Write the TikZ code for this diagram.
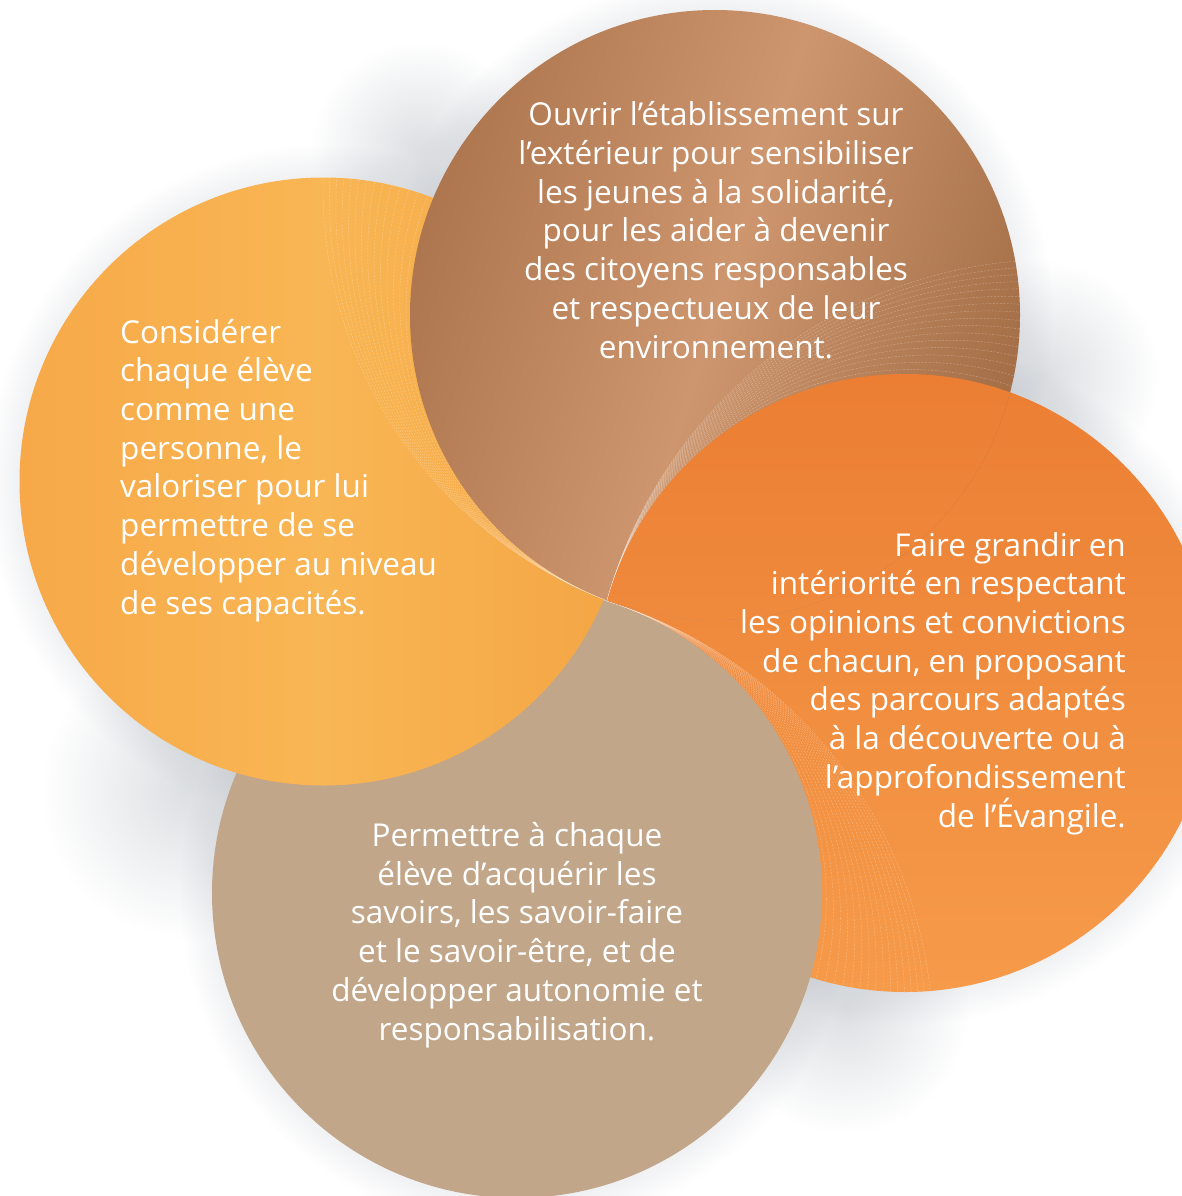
\documentclass[tikz,border=0pt]{standalone}
\usepackage{fontspec}
\setmainfont{Open Sans}
\usetikzlibrary{calc}
\definecolor{yelL}{HTML}{F7A949}
\definecolor{yelM}{HTML}{F9B654}
\definecolor{yelR}{HTML}{F4A544}
\definecolor{brnL}{HTML}{AE764E}
\definecolor{brnM}{HTML}{CD966E}
\definecolor{brnR}{HTML}{A46E47}
\definecolor{orgT}{HTML}{EB7E33}
\definecolor{orgB}{HTML}{F69B4A}
\definecolor{tanC}{HTML}{C2A689}
\definecolor{shgray}{HTML}{DCDFE2}
\definecolor{halogray}{HTML}{F0F1F3}
\pgfdeclareradialshading{halo}{\pgfpoint{0bp}{0bp}}{color(0bp)=(halogray); color(22.5bp)=(halogray); color(25bp)=(white); color(50bp)=(white)}
\begin{document}
\begin{tikzpicture}[x=1pt,y=-1pt,
  ring/.style={white, opacity=0.3, line width=0.45pt, dash pattern=on 2pt off 1.5pt},
  txt/.style={text=white, inner sep=0pt, font=\fontsize{31.5}{38.7}\selectfont},
  yelfill/.style={left color=yelL, right color=yelR, middle color=yelM},
  brnfill/.style={left color=brnL, right color=brnR, middle color=brnM, shading angle=72},
  orgfill/.style={top color=orgT, bottom color=orgB},
  blob/.style={inner color=shgray, outer color=white}
]
\useasboundingbox (0,0) rectangle (1181,1196);
\coordinate (P) at (605,600);
\coordinate (Yc) at (323.5,481.5);
\coordinate (Bc) at (715,315);
\coordinate (Oc) at (905,683);
\coordinate (Tc) at (517,893);

% soft shadows
\begin{scope}[blend mode=multiply]
  \shade[shading=halo] (Yc) circle[radius=338];
  \shade[shading=halo] (Bc) circle[radius=339];
  \shade[shading=halo] (Oc) circle[radius=343];
  \shade[shading=halo] (Tc) circle[radius=339];
  \shade[blob] (420,150) circle[radius=110];
  \shade[blob] (1045,375) circle[radius=115];
  \shade[blob] (845,1010) circle[radius=125];
  \shade[blob] (190,790) circle[radius=150];
\end{scope}

% orange (bottom layer)
\shade[orgfill] (Oc) circle[radius=309];
\begin{scope}
  \clip (Oc) circle[radius=309];
  \foreach \t in {6,16,...,156}
    \draw[ring] ($(Tc)!{-\t/305.9}!(P)$) circle[radius=305+\t];
\end{scope}

% tan
\fill[tanC] (Tc) circle[radius=305];

% yellow
\shade[yelfill] (Yc) circle[radius=304];
\begin{scope}
  \clip (Yc) circle[radius=304];
  \foreach \t in {6,16,...,136}
    \draw[ring] ($(Bc)!{-\t/305.5}!(P)$) circle[radius=305+\t];
\end{scope}

% brown
\shade[brnfill] (Bc) circle[radius=305];
\begin{scope}
  \clip (Bc) circle[radius=305];
  \foreach \t in {6,16,...,156}
    \draw[ring] ($(Oc)!{-\t/311.3}!(P)$) circle[radius=309+\t];
  % orange over brown
  \shade[orgfill] (Oc) circle[radius=309];
\end{scope}

% texts (base anchor = baseline of the last line)
\node[txt, align=center, anchor=base] (ttop) at (716,358)
  {Ouvrir l’établissement sur\\l’extérieur pour sensibiliser\\les jeunes à la solidarité,\\pour les aider à devenir\\des citoyens responsables\\et respectueux de leur\\environnement.};
\node[txt, align=left, anchor=base west] (tleft) at (120,614)
  {Considérer\\chaque élève\\comme une\\personne, le\\valoriser pour lui\\permettre de se\\développer au niveau\\de ses capacités.};
\node[txt, align=right, anchor=base east] (tright) at (1126,827)
  {Faire grandir en\\intériorité en respectant\\les opinions et convictions\\de chacun, en proposant\\des parcours adaptés\\à la découverte ou à\\l’approfondissement\\de l’Évangile.};
\node[txt, align=center, anchor=base] (tbottom) at (517,1040)
  {Permettre à chaque\\élève d’acquérir les\\savoirs, les savoir-faire\\et le savoir-être, et de\\développer autonomie et\\responsabilisation.};
\end{tikzpicture}
\end{document}
